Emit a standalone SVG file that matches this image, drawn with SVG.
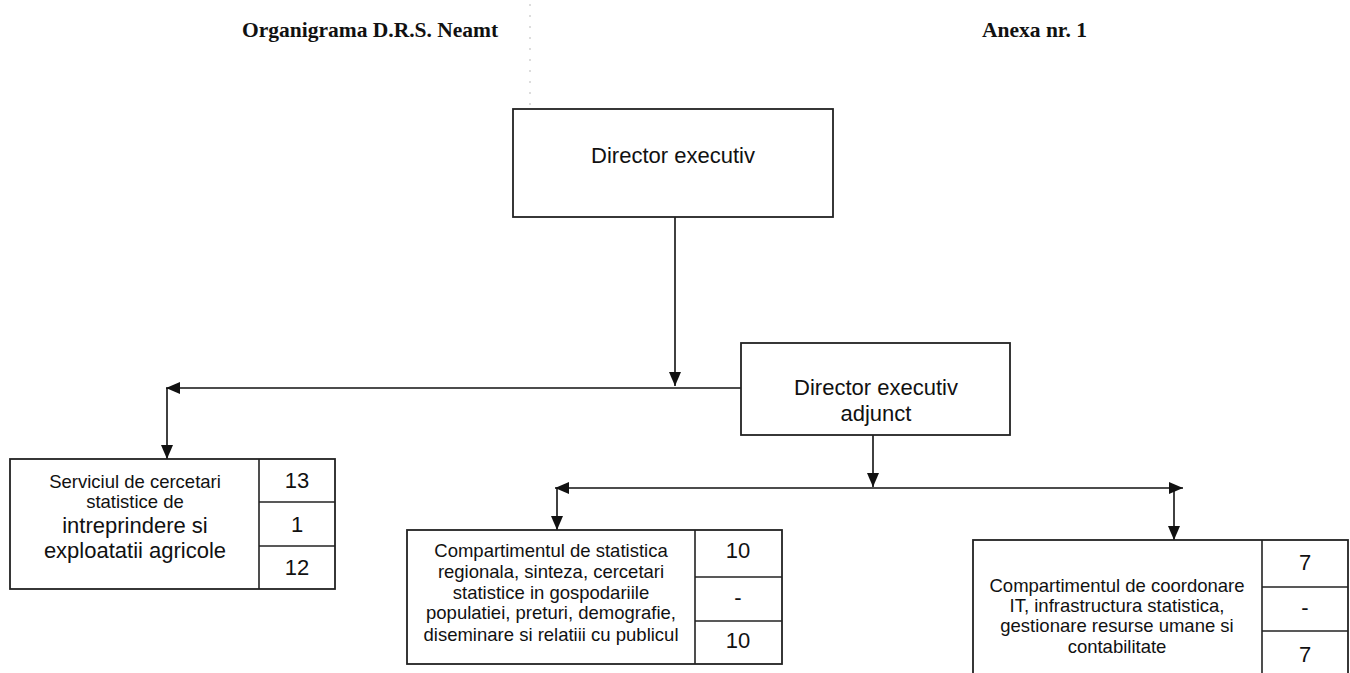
<svg xmlns="http://www.w3.org/2000/svg" width="1350" height="673" viewBox="0 0 1350 673">
<defs>
<marker id="ah" viewBox="0 0 14 12" refX="14" refY="6" markerWidth="14" markerHeight="12" markerUnits="userSpaceOnUse" orient="auto">
<path d="M0,0 L14,6 L0,12 Z" fill="#111"/>
</marker>
</defs>
<style>
.box{fill:#fff;stroke:#222;stroke-width:1.8}
.ln{fill:none;stroke:#222;stroke-width:1.6}
.con{fill:none;stroke:#111;stroke-width:1.6}
.hd{font-family:"Liberation Serif","Times New Roman",serif;font-weight:bold;font-size:21.5px;fill:#111}
.t22{font-family:"Liberation Sans",Arial,sans-serif;font-size:22px;fill:#111;text-anchor:middle}
.t18{font-family:"Liberation Sans",Arial,sans-serif;font-size:18.5px;fill:#111;text-anchor:middle}
</style>
<rect width="1350" height="673" fill="#fff"/>
<text class="hd" x="242" y="37">Organigrama D.R.S. Neamt</text>
<text class="hd" x="982" y="37">Anexa nr. 1</text>
<line x1="530" y1="4" x2="530" y2="106" stroke="#bbb" stroke-width="1" stroke-dasharray="2 9"/>

<g id="connectors">
<line class="con" x1="675" y1="217" x2="675" y2="386" marker-end="url(#ah)"/>
<line class="con" x1="741" y1="388" x2="166" y2="388" marker-end="url(#ah)"/>
<line class="con" x1="167" y1="388" x2="167" y2="459" marker-end="url(#ah)"/>
<line class="con" x1="873" y1="435" x2="873" y2="487" marker-end="url(#ah)"/>
<line class="con" x1="873" y1="488" x2="555" y2="488" marker-end="url(#ah)"/>
<line class="con" x1="873" y1="488" x2="1183" y2="488" marker-end="url(#ah)"/>
<line class="con" x1="557" y1="488" x2="557" y2="530" marker-end="url(#ah)"/>
<line class="con" x1="1174" y1="488" x2="1174" y2="540" marker-end="url(#ah)"/>
</g>

<g id="director">
<rect class="box" x="513" y="109" width="320" height="108"/>
<text class="t22" x="673" y="163">Director executiv</text>
</g>

<g id="director-adjunct">
<rect class="box" x="741" y="343" width="269" height="92"/>
<text class="t22" x="876" y="395">Director executiv</text>
<text class="t22" x="876" y="421">adjunct</text>
</g>

<g id="serviciu">
<rect class="box" x="10" y="459" width="325" height="130"/>
<line class="ln" x1="259" y1="459" x2="259" y2="589"/>
<line class="ln" x1="259" y1="502" x2="335" y2="502"/>
<line class="ln" x1="259" y1="546" x2="335" y2="546"/>
<text class="t18" x="135" y="488">Serviciul de cercetari</text>
<text class="t18" x="135" y="508">statistice de</text>
<text class="t22" x="135" y="533">intreprindere si</text>
<text class="t22" x="135" y="558">exploatatii agricole</text>
<text class="t22" x="297" y="488">13</text>
<text class="t22" x="297" y="532">1</text>
<text class="t22" x="297" y="575">12</text>
</g>

<g id="compartiment-statistica">
<rect class="box" x="407" y="530" width="375" height="134"/>
<line class="ln" x1="695" y1="530" x2="695" y2="664"/>
<line class="ln" x1="695" y1="577" x2="782" y2="577"/>
<line class="ln" x1="695" y1="621" x2="782" y2="621"/>
<text class="t18" x="551" y="557">Compartimentul de statistica</text>
<text class="t18" x="551" y="578">regionala, sinteza, cercetari</text>
<text class="t18" x="551" y="599">statistice in gospodariile</text>
<text class="t18" x="551" y="619">populatiei, preturi, demografie,</text>
<text class="t18" x="551" y="641">diseminare si relatiii cu publicul</text>
<text class="t22" x="738" y="558">10</text>
<text class="t22" x="738" y="605">-</text>
<text class="t22" x="738" y="648">10</text>
</g>

<g id="compartiment-it">
<rect class="box" x="973" y="540" width="375" height="145"/>
<line class="ln" x1="1262" y1="540" x2="1262" y2="685"/>
<line class="ln" x1="1262" y1="587" x2="1348" y2="587"/>
<line class="ln" x1="1262" y1="631" x2="1348" y2="631"/>
<text class="t18" x="1117" y="592">Compartimentul de coordonare</text>
<text class="t18" x="1117" y="612">IT, infrastructura statistica,</text>
<text class="t18" x="1117" y="632">gestionare resurse umane si</text>
<text class="t18" x="1117" y="653">contabilitate</text>
<text class="t22" x="1305" y="570">7</text>
<text class="t22" x="1305" y="615">-</text>
<text class="t22" x="1305" y="662">7</text>
</g>
</svg>
